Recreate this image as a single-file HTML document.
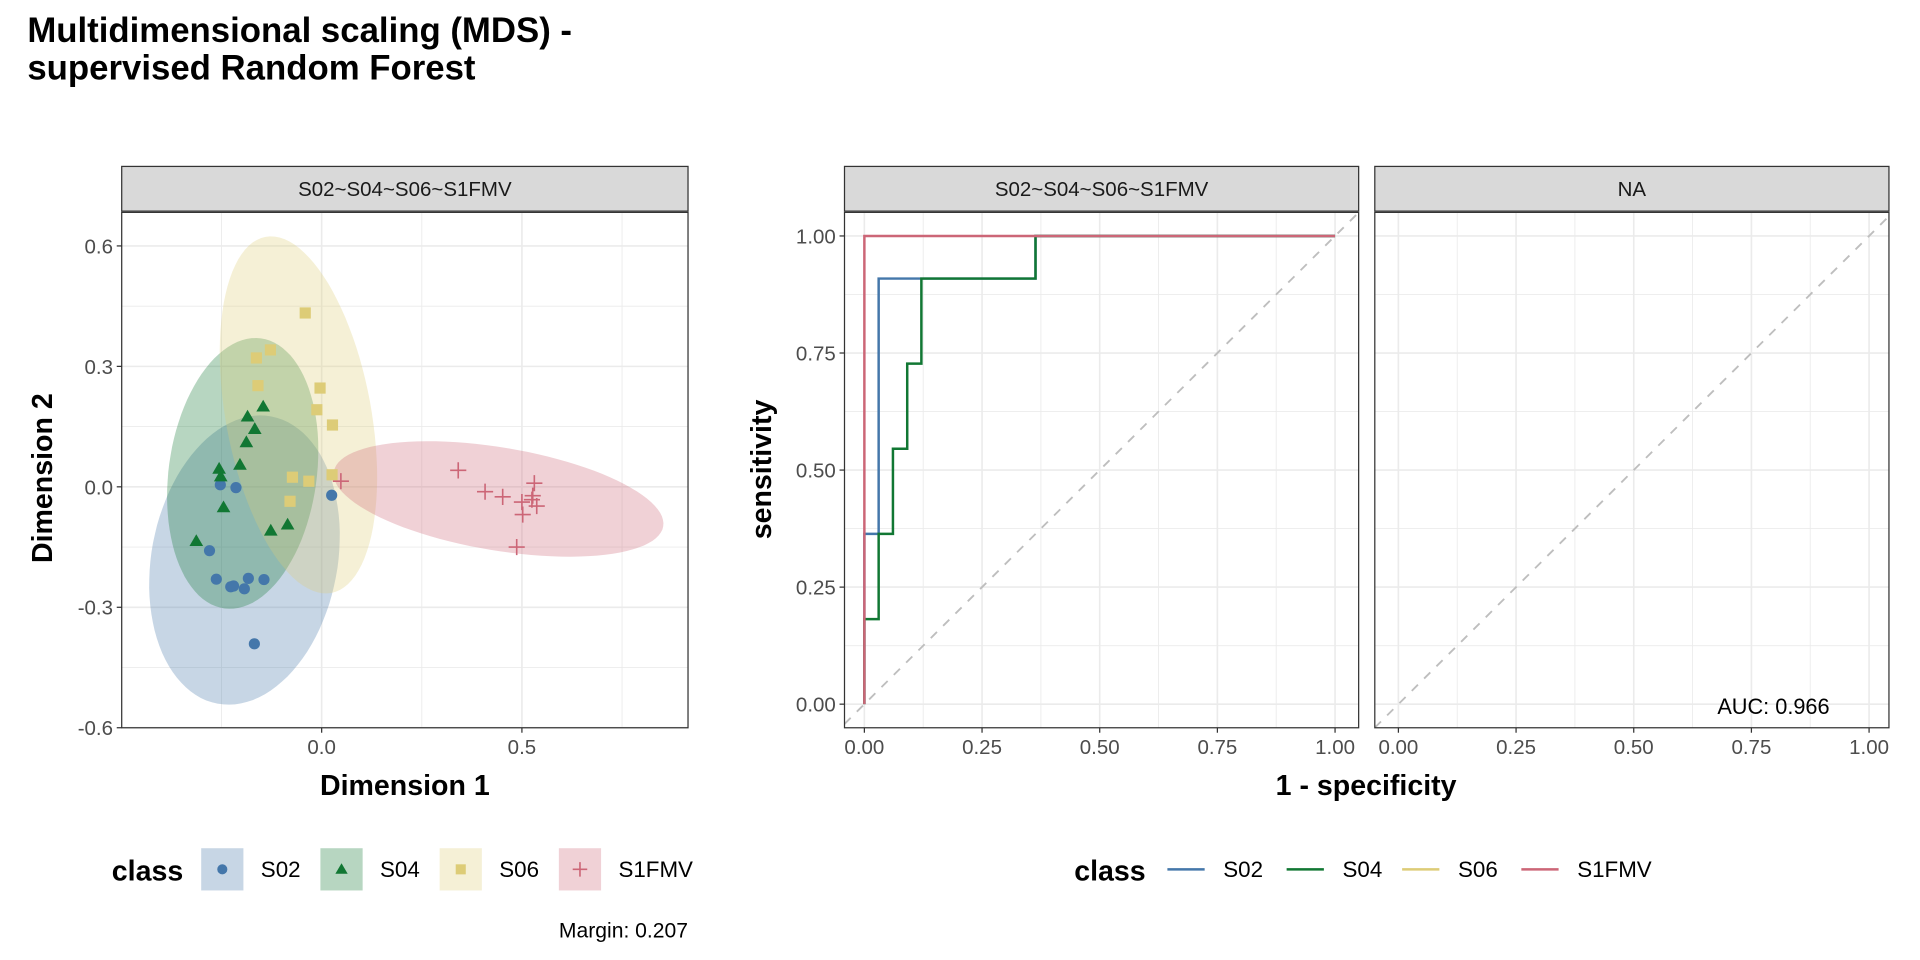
<!DOCTYPE html>
<html><head><meta charset="utf-8"><style>
html,body{margin:0;padding:0;background:#fff;}
svg{display:block;font-family:"Liberation Sans",sans-serif;}
</style></head><body>
<svg id="svg" width="1920" height="960" viewBox="0 0 1546 773" preserveAspectRatio="none" xmlns="http://www.w3.org/2000/svg">
<text x="22" y="34" font-size="28" font-weight="bold">Multidimensional scaling (MDS) -</text>
<text x="22" y="64" font-size="28" font-weight="bold">supervised Random Forest</text>
<g id="g-mds"></g>
<g id="g-roc"></g>
</svg>
<script>
// ---- MDS data ----
const classes = ["S02","S04","S06","S1FMV"];
const colors = ["#4477AA","#117733","#DDCC77","#CC6677"];
const s02X = [-0.253,-0.214,0.025,-0.280,-0.263,-0.227,-0.220,-0.193,-0.183,-0.144,-0.168];
const s02Y = [0.005,-0.002,-0.021,-0.159,-0.230,-0.249,-0.247,-0.254,-0.228,-0.231,-0.391];
const s04X = [-0.146,-0.185,-0.167,-0.188,-0.204,-0.256,-0.252,-0.245,-0.313,-0.127,-0.085];
const s04Y = [0.200,0.175,0.144,0.111,0.055,0.045,0.026,-0.051,-0.135,-0.109,-0.094];
const s06X = [-0.041,-0.128,-0.163,-0.159,-0.004,-0.012,0.027,0.026,-0.073,-0.032,-0.079];
const s06Y = [0.433,0.341,0.321,0.252,0.246,0.192,0.154,0.030,0.024,0.014,-0.036];
const s1X = [0.048,0.341,0.408,0.452,0.531,0.500,0.525,0.537,0.502,0.487,0.527];
const s1Y = [0.014,0.041,-0.012,-0.025,0.009,-0.038,-0.032,-0.048,-0.069,-0.150,-0.022];
const mdsXTicks = [0.0,0.5];
const mdsYTicks = [0.6,0.3,0.0,-0.3,-0.6];
const margin = "Margin: 0.207";
// ---- ROC data ----
const rocS02X = [0,0,0.0303,0.0303,0.1212,0.3636,0.3636,1];
const rocS02Y = [0,0.3636,0.3636,0.9091,0.9091,0.9091,1,1];
const rocS04X = [0,0,0.0303,0.0303,0.0606,0.0606,0.0909,0.0909,0.1212,0.1212,0.3636,0.3636,1];
const rocS04Y = [0,0.1818,0.1818,0.3636,0.3636,0.5455,0.5455,0.7273,0.7273,0.9091,0.9091,1,1];
const rocS06X = [];
const rocS06Y = [];
const rocS1X = [0,0,1];
const rocS1Y = [0,1,1];
const rocTicks = [0,0.25,0.5,0.75,1];
const rocTickLabels = ["0.00","0.25","0.50","0.75","1.00"];
const aucText = "AUC: 0.966";

const NS="http://www.w3.org/2000/svg";
function mk(parent,tag,attrs,text){const e=document.createElementNS(NS,tag);for(const k in attrs)e.setAttribute(k,attrs[k]);if(text!==undefined)e.textContent=text;parent.appendChild(e);return e;}
const TF=16.5;

// ===== MDS panel =====
const gm=document.getElementById('g-mds');
const L=98,R=554,T=171,B=586;
const sx=v=>259+v*322.5, sy=v=>392-v*323.3;
let e;
e=mk(gm,'rect',{x:L,y:T,width:R-L,height:B-T,fill:'#fff'});

[-0.25,0.25,0.75].forEach(v=>{e=mk(gm,'line',{x1:sx(v),x2:sx(v),y1:T,y2:B,stroke:'#EBEBEB','stroke-width':0.7});});
[0.45,0.15,-0.15,-0.45].forEach(v=>{e=mk(gm,'line',{x1:L,x2:R,y1:sy(v),y2:sy(v),stroke:'#EBEBEB','stroke-width':0.7});});
mdsXTicks.forEach(v=>{e=mk(gm,'line',{x1:sx(v),x2:sx(v),y1:T,y2:B,stroke:'#EBEBEB','stroke-width':1.3});});
mdsYTicks.forEach(v=>{e=mk(gm,'line',{x1:L,x2:R,y1:sy(v),y2:sy(v),stroke:'#EBEBEB','stroke-width':1.3});});

const allX=[s02X,s04X,s06X,s1X], allY=[s02Y,s04Y,s06Y,s1Y];
allX.forEach((xs,ci)=>{
  const ys=allY[ci],n=xs.length;
  const mx=xs.reduce((a,b)=>a+b)/n,my=ys.reduce((a,b)=>a+b)/n;
  let a=0,b=0,c=0;for(let i=0;i<n;i++){a+=(xs[i]-mx)**2;b+=(xs[i]-mx)*(ys[i]-my);c+=(ys[i]-my)**2;}
  a/=n-1;b/=n-1;c/=n-1;
  const tr=a+c,det=a*c-b*b,l1=tr/2+Math.sqrt(tr*tr/4-det),l2=tr/2-Math.sqrt(tr*tr/4-det);
  const th=Math.atan2(l1-a,b===0?1e-9:b);
  const k=Math.sqrt(2*4.10);
  const pts=[];
  for(let t=0;t<=100;t++){const u=t/100*2*Math.PI;const px=Math.sqrt(l1)*k*Math.cos(u),py=Math.sqrt(Math.max(l2,0))*k*Math.sin(u);
    const X=mx+px*Math.cos(th)-py*Math.sin(th),Y=my+px*Math.sin(th)+py*Math.cos(th);
    pts.push(Math.max(L,Math.min(R,sx(X))).toFixed(1)+','+Math.max(T,Math.min(B,sy(Y))).toFixed(1));}
  e=mk(gm,'polygon',{points:pts.join(' '),fill:colors[ci],'fill-opacity':0.3});
  
});
function marker(g,ci,cx,cy,s){
  let m;
  if(ci===0)m=mk(g,'circle',{cx,cy,r:4.5*s,fill:colors[0]});
  else if(ci===1)m=mk(g,'polygon',{points:`${cx},${cy-5.5*s} ${cx-5.5*s},${cy+4*s} ${cx+5.5*s},${cy+4*s}`,fill:colors[1]});
  else if(ci===2)m=mk(g,'rect',{x:cx-4.5*s,y:cy-4.5*s,width:9*s,height:9*s,fill:colors[2]});
  else m=mk(g,'path',{d:`M${cx-6.5*s},${cy}H${cx+6.5*s}M${cx},${cy-6.5*s}V${cy+6.5*s}`,stroke:colors[3],'stroke-width':1.3,fill:'none'});
  return m;
}
allX.forEach((xs,ci)=>{xs.forEach((x,i)=>{
  const m=marker(gm,ci,sx(x),sy(allY[ci][i]),1);
  
  
});});
e=mk(gm,'rect',{x:L,y:T,width:R-L,height:B-T,fill:'none',stroke:'#333','stroke-width':1});

e=mk(gm,'rect',{x:L,y:134,width:R-L,height:36,fill:'#D9D9D9',stroke:'#333','stroke-width':1});

e=mk(gm,'text',{x:(L+R)/2,y:158,'font-size':TF,'text-anchor':'middle',fill:'#1a1a1a'},'S02~S04~S06~S1FMV');

mdsXTicks.forEach(v=>{mk(gm,'line',{x1:sx(v),x2:sx(v),y1:B,y2:B+4,stroke:'#333'});
  e=mk(gm,'text',{x:sx(v),y:B+21,'font-size':TF,'text-anchor':'middle',fill:'#4d4d4d'},v.toFixed(1));
  });
mdsYTicks.forEach(v=>{mk(gm,'line',{x1:L-4,x2:L,y1:sy(v),y2:sy(v),stroke:'#333'});
  e=mk(gm,'text',{x:L-7,y:sy(v)+6,'font-size':TF,'text-anchor':'end',fill:'#4d4d4d'},v.toFixed(1));
  });
e=mk(gm,'text',{x:326,y:640,'font-size':23,'font-weight':'bold','text-anchor':'middle'},'Dimension 1');

e=mk(gm,'text',{x:0,y:0,'font-size':23,'font-weight':'bold','text-anchor':'middle',transform:'translate(42,385) rotate(-90)'},'Dimension 2');

e=mk(gm,'text',{x:90,y:709,'font-size':23,'font-weight':'bold'},'class');

const lkx=[162,258,354,450];
classes.forEach((c,ci)=>{
  const g=mk(gm,'g',{});
  
  mk(g,'rect',{x:lkx[ci],y:683,width:34,height:34,fill:colors[ci],'fill-opacity':0.3});
  marker(g,ci,lkx[ci]+17,700,0.9);
  mk(g,'text',{x:lkx[ci]+48,y:706,'font-size':18},c);
});
e=mk(gm,'text',{x:554,y:755,'font-size':17,'text-anchor':'end'},margin);


// ===== ROC panels =====
const gr=document.getElementById('g-roc');
const panels=[{L:680,R:1094,x0:696,x1:1075,label:'S02~S04~S06~S1FMV'},{L:1107,R:1521,x0:1126,x1:1505,label:'NA'}];
const ry=v=>567-v*377;
panels.forEach((p,pi)=>{
  const rx=v=>p.x0+v*(p.x1-p.x0);
  e=mk(gr,'rect',{x:p.L,y:T,width:p.R-p.L,height:B-T,fill:'#fff'});
  
  [0.125,0.375,0.625,0.875].forEach(v=>{mk(gr,'line',{x1:rx(v),x2:rx(v),y1:T,y2:B,stroke:'#EBEBEB','stroke-width':0.7});mk(gr,'line',{x1:p.L,x2:p.R,y1:ry(v),y2:ry(v),stroke:'#EBEBEB','stroke-width':0.7});});
  rocTicks.forEach(v=>{mk(gr,'line',{x1:rx(v),x2:rx(v),y1:T,y2:B,stroke:'#EBEBEB','stroke-width':1.3});mk(gr,'line',{x1:p.L,x2:p.R,y1:ry(v),y2:ry(v),stroke:'#EBEBEB','stroke-width':1.3});});
  const ext0=(p.L-p.x0)/(p.x1-p.x0), ext1=(p.R-p.x0)/(p.x1-p.x0);
  let a0=Math.max(ext0,(567-B)/377), a1=Math.min(ext1,(567-T)/377);
  e=mk(gr,'line',{x1:rx(a0),y1:ry(a0),x2:rx(a1),y2:ry(a1),stroke:'#BEBEBE','stroke-width':1.5,'stroke-dasharray':'7,7'});
  
  if(pi===0){
    const sets=[[rocS02X,rocS02Y],[rocS04X,rocS04Y],[rocS06X,rocS06Y],[rocS1X,rocS1Y]];
    sets.forEach((s,ci)=>{ if(!s[0].length)return;
      const d=s[0].map((x,i)=>(i?'L':'M')+rx(x).toFixed(1)+','+ry(s[1][i]).toFixed(1)).join('');
      e=mk(gr,'path',{d,fill:'none',stroke:colors[ci],'stroke-width':2});
      
    });
  } else {
    e=mk(gr,'text',{x:1428,y:575,'font-size':17.5,'text-anchor':'middle'},aucText);
    
  }
  e=mk(gr,'rect',{x:p.L,y:T,width:p.R-p.L,height:B-T,fill:'none',stroke:'#333','stroke-width':1});
  
  e=mk(gr,'rect',{x:p.L,y:134,width:p.R-p.L,height:36,fill:'#D9D9D9',stroke:'#333','stroke-width':1});
  
  e=mk(gr,'text',{x:(p.L+p.R)/2,y:158,'font-size':TF,'text-anchor':'middle',fill:'#1a1a1a'},p.label);
  
  rocTicks.forEach((v,i)=>{mk(gr,'line',{x1:rx(v),x2:rx(v),y1:B,y2:B+4,stroke:'#333'});
    e=mk(gr,'text',{x:rx(v),y:B+21,'font-size':TF,'text-anchor':'middle',fill:'#4d4d4d'},rocTickLabels[i]);
    });
});
rocTicks.forEach((v,i)=>{mk(gr,'line',{x1:676,x2:680,y1:ry(v),y2:ry(v),stroke:'#333'});
  e=mk(gr,'text',{x:673,y:ry(v)+6,'font-size':TF,'text-anchor':'end',fill:'#4d4d4d'},rocTickLabels[i]);
  });
e=mk(gr,'text',{x:1100,y:640,'font-size':23,'font-weight':'bold','text-anchor':'middle'},'1 - specificity');

e=mk(gr,'text',{x:0,y:0,'font-size':23,'font-weight':'bold','text-anchor':'middle',transform:'translate(621,378) rotate(-90)'},'sensitivity');

e=mk(gr,'text',{x:865,y:709,'font-size':23,'font-weight':'bold'},'class');

const rkx=[940,1036,1129,1225];
classes.forEach((c,ci)=>{
  const g=mk(gr,'g',{});
  
  mk(g,'line',{x1:rkx[ci],x2:rkx[ci]+30,y1:700,y2:700,stroke:colors[ci],'stroke-width':2});
  mk(g,'text',{x:rkx[ci]+45,y:706,'font-size':18},c);
});
</script>
</body></html>
